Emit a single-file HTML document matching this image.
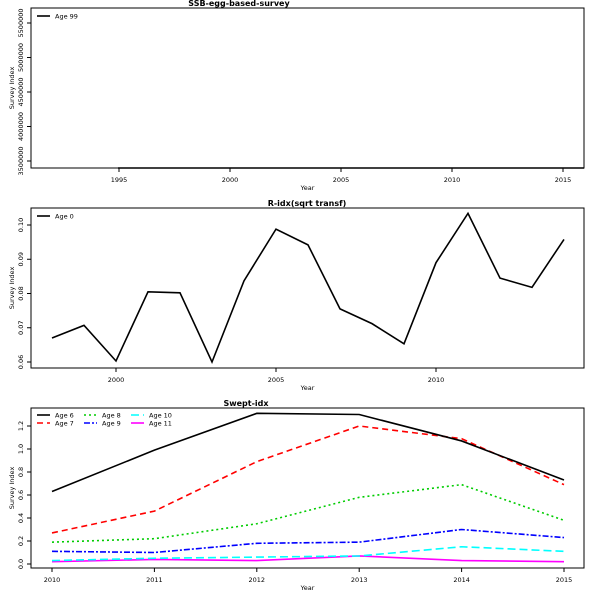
<!DOCTYPE html>
<html><head><meta charset="utf-8"><style>
body{margin:0;background:#fff}
svg{display:block;font-family:"DejaVu Sans","Liberation Sans",sans-serif}
</style></head><body>
<svg id="c" width="600" height="600" xmlns="http://www.w3.org/2000/svg"></svg>
<script>
const ssbYears = [];
const ssbValues = [];
const ssbYTicks = [3500000, 4000000, 4500000, 5000000, 5500000];
const ssbXTicks = [1995, 2000, 2005, 2010, 2015];

const ridxYears = [1998,1999,2000,2001,2002,2003,2004,2005,2006,2007,2008,2009,2010,2011,2012,2013,2014];
const ridxValues = [0.0670,0.0707,0.0603,0.0805,0.0802,0.0600,0.0837,0.0988,0.0942,0.0755,0.0712,0.0653,0.0890,0.1034,0.0845,0.0818,0.0958];
const ridxYTicks = [0.06,0.07,0.08,0.09,0.10];
const ridxXTicks = [2000,2005,2010];

const sweptYears = [2010,2011,2012,2013,2014,2015];
const age6 = [0.63,0.99,1.31,1.30,1.07,0.73];
const age7 = [0.27,0.46,0.89,1.20,1.09,0.69];
const age8 = [0.19,0.22,0.35,0.58,0.69,0.38];
const age9 = [0.11,0.10,0.18,0.19,0.30,0.23];
const age10 = [0.03,0.05,0.06,0.07,0.15,0.11];
const age11 = [0.02,0.04,0.03,0.07,0.03,0.02];
const sweptYTicks = [0.0,0.2,0.4,0.6,0.8,1.0,1.2];
const sweptXTicks = [2010,2011,2012,2013,2014,2015];

const svg = document.getElementById('c');
const NS = 'http://www.w3.org/2000/svg';
function el(tag, attrs, parent){const e=document.createElementNS(NS,tag);for(const k in attrs)e.setAttribute(k,attrs[k]);(parent||svg).appendChild(e);return e;}
function txt(s, attrs, parent){const t=el('text',attrs,parent);t.textContent=s;return t;}

function panel(name, box, title, titleX, xs, ys, xTicks, yTicks, yFmt){
  const g = el('g',{});
  
  
  const X = v => box.x0 + (v - xs[0])*(box.x1v - box.x0)/(xs[1]-xs[0]);
  const Y = v => box.y0 + (v - ys[0])*(box.y1v - box.y0)/(ys[1]-ys[0]);
  const frame = el('rect',{x:box.l,y:box.t,width:box.r-box.l,height:box.b-box.t,fill:'none',stroke:'#000','stroke-width':1},g);
  
  
  const tt = txt(title,{x:titleX,y:box.t-2,'font-size':8,'font-weight':'bold','text-anchor':'middle'},g);
  
  
  xTicks.forEach(v=>{
    const x=X(v);
    el('line',{x1:x,x2:x,y1:box.b,y2:box.b+4,stroke:'#000'},g);
    const t=txt(String(v),{x:x,y:box.b+14,'font-size':6.5,'text-anchor':'middle'},g);
    
    
  });
  yTicks.forEach(v=>{
    const y=Y(v);
    el('line',{x1:box.l-4,x2:box.l,y1:y,y2:y,stroke:'#000'},g);
    const t=txt(yFmt(v),{x:0,y:0,'font-size':6.5,'text-anchor':'middle',transform:`translate(${box.l-8},${y}) rotate(-90)`},g);
    
    
  });
  const xl=txt('Year',{x:(box.l+box.r)/2,y:box.b+22,'font-size':6.5,'text-anchor':'middle'},g);
  
  
  const yl=txt('Survey Index',{x:0,y:0,'font-size':6.5,'text-anchor':'middle',transform:`translate(14,${(box.t+box.b)/2}) rotate(-90)`},g);
  
  
  return {g,X,Y};
}
function series(p, name, xs, vals, color, dash){
  const pts = xs.map((x,i)=>p.X(x)+','+p.Y(vals[i])).join(' ');
  const pl = el('polyline',{points:pts,fill:'none',stroke:color,'stroke-width':1.6,'stroke-dasharray':dash||'none'},p.g);
  
  
}
function legendEntry(p, name, x, y, label, color, dash){
  const g = el('g',{},p.g);
  
  
  el('line',{x1:x,x2:x+13,y1:y,y2:y,stroke:color,'stroke-width':1.6,'stroke-dasharray':dash||'none'},g);
  txt(label,{x:x+18,y:y+2.3,'font-size':6.5},g);
}

// Panel 1
const p1 = panel('ssb-egg', {l:31,r:584,t:8,b:168,x0:119,x1v:230,y0:161,y1v:23}, 'SSB-egg-based-survey', 239, [1995,2000],[3500000,5500000], ssbXTicks, ssbYTicks, v=>String(v));
if (ssbYears.length) series(p1,'line-age-99',ssbYears,ssbValues,'#000');
el('line',{x1:118,x2:584,y1:168,y2:168,stroke:'#000','stroke-width':1.6},p1.g);
legendEntry(p1,'legend-age-99',37,16,'Age 99','#000');

// Panel 2
const p2 = panel('r-idx', {l:31,r:584,t:208,b:368,x0:116,x1v:276,y0:362,y1v:225}, 'R-idx(sqrt transf)', 307, [2000,2005],[0.06,0.10], ridxXTicks, ridxYTicks, v=>v.toFixed(2));
series(p2,'line-age-0',ridxYears,ridxValues,'#000');
legendEntry(p2,'legend-age-0',37,216,'Age 0','#000');

// Panel 3
const p3 = panel('swept-idx', {l:31,r:584,t:408,b:568,x0:52,x1v:564,y0:564,y1v:426}, 'Swept-idx', 246, [2010,2015],[0,1.2], sweptXTicks, sweptYTicks, v=>v.toFixed(1));
series(p3,'line-age-11',sweptYears,age11,'#f0f');
series(p3,'line-age-10',sweptYears,age10,'#0ff','8 4');
series(p3,'line-age-9',sweptYears,age9,'#00f','6 2 2 2');
series(p3,'line-age-8',sweptYears,age8,'#0c0','2 3');
series(p3,'line-age-7',sweptYears,age7,'#f00','6 4');
series(p3,'line-age-6',sweptYears,age6,'#000');
legendEntry(p3,'legend-age-6',37,415,'Age 6','#000');
legendEntry(p3,'legend-age-7',37,423,'Age 7','#f00','6 4');
legendEntry(p3,'legend-age-8',84,415,'Age 8','#0c0','2 3');
legendEntry(p3,'legend-age-9',84,423,'Age 9','#00f','6 2 2 2');
legendEntry(p3,'legend-age-10',131,415,'Age 10','#0ff','8 4');
legendEntry(p3,'legend-age-11',131,423,'Age 11','#f0f');
</script>
</body></html>
